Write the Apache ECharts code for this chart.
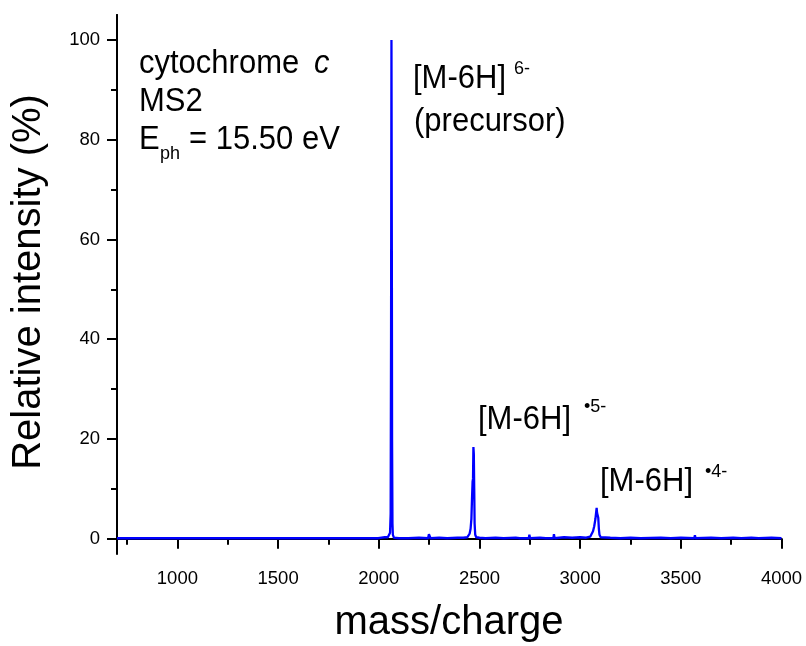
<!DOCTYPE html>
<html>
<head>
<meta charset="utf-8">
<title>cytochrome c MS2</title>
<script src="https://cdn.jsdelivr.net/npm/echarts@6/dist/echarts.min.js"></script>
<style>
  html, body { margin: 0; padding: 0; background: #fff; }
  #chart { width: 806px; height: 646px; }
</style>
</head>
<body>
<div id="chart"></div>
<script>
// spectrum (m/z, relative intensity %)
const mz = [
  700, 1000, 1300, 1500, 1617, 1620, 1623, 1700, 1777, 1780, 1783, 1900, 1997, 2000, 2003, 2030, 2045,
  2050, 2056, 2059, 2061, 2063, 2065, 2066, 2068, 2070, 2075,
  2100, 2147, 2150, 2153, 2200, 2245, 2249, 2253, 2257, 2300, 2340, 2343, 2346, 2390, 2420, 2440,
  2445, 2451, 2456, 2460, 2463, 2466, 2468, 2470, 2472, 2474, 2476, 2479, 2484,
  2500, 2530, 2533, 2536, 2580, 2620, 2623, 2626, 2680, 2700, 2745, 2748, 2751, 2800, 2830, 2833, 2836, 2867, 2870, 2873, 2920, 2960, 3000, 3030, 3050,
  3058, 3064, 3070, 3076, 3080, 3082, 3084, 3087, 3090, 3093, 3096, 3102,
  3150, 3200, 3250, 3300, 3303, 3306, 3400, 3450, 3500, 3567, 3570, 3573, 3650, 3700, 3760, 3800, 3850, 3887, 3890, 3893, 3950, 4000
]
const intensity = [
  0.1, 0.1, 0.1, 0.1, 0.1, 0.3, 0.1, 0.1, 0.1, 0.3, 0.1, 0.1, 0.1, 0.3, 0.1, 0.3, 0.3,
  0.7, 1.2, 5, 40, 100, 55, 20, 3, 0.8, 0.2,
  0.1, 0.1, 0.5, 0.1, 0.2, 0.1, 0.9, 0.5, 0.1, 0.2, 0.1, 0.4, 0.1, 0.2, 0.2, 0.3,
  0.5, 1, 2, 4, 8, 11.5, 12, 18.4, 17, 10, 3, 0.8, 0.3,
  0.2, 0.1, 0.4, 0.1, 0.2, 0.1, 0.5, 0.1, 0.2, 0.1, 0.1, 0.8, 0.1, 0.2, 0.1, 0.4, 0.1, 0.1, 0.9, 0.1, 0.3, 0.2, 0.3, 0.2, 0.4,
  0.6, 1.5, 2.5, 4, 5.5, 6.2, 5.2, 5.4, 4.2, 2, 0.8, 0.3,
  0.2, 0.1, 0.2, 0.1, 0.4, 0.1, 0.2, 0.1, 0.2, 0.1, 0.7, 0.1, 0.2, 0.1, 0.2, 0.1, 0.2, 0.1, 0.5, 0.1, 0.2, 0.1
]

const xMajorTicks = [1000, 1500, 2000, 2500, 3000, 3500, 4000]
const xMinorTicks = [750, 1250, 1750, 2250, 2750, 3250, 3750]
const yMajorTicks = [0, 20, 40, 60, 80, 100]
const yMinorTicks = [10, 30, 50, 70, 90]

const FONT = "'Liberation Sans', Arial, Helvetica, sans-serif"
const X_MIN = 700, X_MAX = 4000, Y_MIN = -3, Y_MAX = 105
const TALL = 1.08 // annotation text in the source is a little taller than Arial

const chart = echarts.init(document.getElementById('chart'))

const baseAxis = {
  type: 'value',
  axisLine: { show: true, lineStyle: { color: '#000', width: 2 } },
  splitLine: { show: false }
}

const text = (str, x, y, size, extra, scaleY) => ({
  type: 'text',
  x: x,
  y: y,
  scaleY: scaleY || 1,
  style: Object.assign({
    text: str,
    font: size + 'px ' + FONT,
    fill: '#000',
    textAlign: 'left',
    textVerticalAlign: 'middle'
  }, extra || {})
})

chart.setOption({
  animation: false,
  backgroundColor: '#fff',
  grid: { left: 117, top: 15, right: 24.5, bottom: 92.3, outerBoundsMode: 'none' },
  xAxis: [
    Object.assign({}, baseAxis, {
      min: X_MIN, max: X_MAX, position: 'bottom',
      axisTick: { show: true, inside: false, length: 10, customValues: xMajorTicks, lineStyle: { color: '#000', width: 2 } },
      axisLabel: { customValues: xMajorTicks, margin: 16, fontSize: 18.5, fontFamily: FONT, color: '#000', formatter: v => String(v) }
    }),
    Object.assign({}, baseAxis, {
      min: X_MIN, max: X_MAX, position: 'bottom', offset: 0,
      axisTick: { show: true, inside: false, length: 6, customValues: xMinorTicks, lineStyle: { color: '#000', width: 2 } },
      axisLabel: { show: false }
    })
  ],
  yAxis: [
    Object.assign({}, baseAxis, {
      min: Y_MIN, max: Y_MAX, position: 'left',
      axisTick: { show: true, inside: false, length: 10, customValues: yMajorTicks, lineStyle: { color: '#000', width: 2 } },
      axisLabel: { customValues: yMajorTicks, margin: 17, fontSize: 18.5, fontFamily: FONT, color: '#000', formatter: v => String(v) }
    }),
    Object.assign({}, baseAxis, {
      min: Y_MIN, max: Y_MAX, position: 'left', offset: 0,
      axisTick: { show: true, inside: false, length: 6, customValues: yMinorTicks, lineStyle: { color: '#000', width: 2 } },
      axisLabel: { show: false }
    })
  ],
  series: [{
    type: 'line',
    xAxisIndex: 0,
    yAxisIndex: 0,
    data: mz.map((m, i) => [m, intensity[i]]),
    showSymbol: false,
    symbol: 'none',
    lineStyle: { color: '#0000ff', width: 2.3 },
    silent: true
  }],
  graphic: [
    // axis titles
    text('mass/charge', 449, 623, 40, { textAlign: 'center' }),
    Object.assign(text('Relative intensity (%)', 29, 282, 40, { textAlign: 'center' }), { rotation: Math.PI / 2 }),
    // sample info
    text('cytochrome ', 139, 64, 31, null, TALL),
    text('c', 314, 64, 31, { font: 'italic 31px ' + FONT }, TALL),
    text('MS2', 139, 102, 31, null, TALL),
    text('E', 139, 140, 31, null, TALL),
    text('ph', 160, 154, 18),
    text('= 15.50 eV', 189, 140, 31, null, TALL),
    // peak labels
    text('[M-6H]', 413, 79, 31, null, TALL),
    text('6-', 514, 69, 18),
    text('(precursor)', 414, 122, 31, null, TALL),
    text('[M-6H]', 478, 420, 31, null, TALL),
    text('\u20225-', 584, 407, 18),
    text('[M-6H]', 600, 482, 31, null, TALL),
    text('\u20224-', 705, 472, 18)
  ]
})
</script>
</body>
</html>
